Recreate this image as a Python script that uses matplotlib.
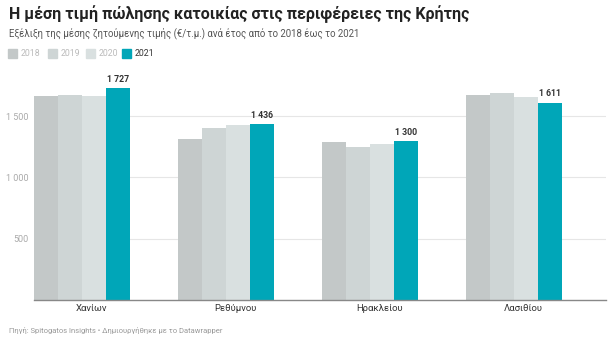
import numpy as np
import matplotlib.pyplot as plt
from matplotlib.patches import Rectangle

plt.rcParams['font.family'] = ['Roboto', 'DejaVu Sans']

regions = ['Χανίων', 'Ρεθύμνου', 'Ηρακλείου', 'Λασιθίου']
years = ['2018', '2019', '2020', '2021']
prices = {
    '2018': [1665, 1317, 1287, 1675],
    '2019': [1672, 1402, 1251, 1691],
    '2020': [1663, 1428, 1270, 1656],
    '2021': [1727, 1436, 1300, 1611],
}
colors = ['#c3c8c8', '#ced5d5', '#d9e0e0', '#00a6b8']

fig = plt.figure(figsize=(6.16, 3.57), dpi=100)
ax = fig.add_axes([34/616, 57/357, 572/616, 220.6/357])

centers = np.arange(len(regions)) * 6
for k, y in enumerate(years):
    bars = ax.bar(centers + (k - 1.5), prices[y], 1.0, color=colors[k], zorder=2)
    if y == '2021':
        for b in bars:
            h = b.get_height()
            ax.annotate(f"{h:,}".replace(',', ' '),
                        xy=(b.get_x() + b.get_width() / 2, h),
                        xytext=(0, 3), textcoords='offset points',
                        ha='center', va='bottom', fontsize=6.3,
                        fontweight='bold', color='#333333')

ax.set_xlim(-2, 21.83)
ax.set_ylim(0, 1800)
for v in [500, 1000, 1500]:
    ax.axhline(v, color='#e6e6e6', lw=0.8, zorder=1)
ax.set_yticks([500, 1000, 1500])
ax.set_yticklabels(['500', '1 000', '1 500'])
ax.tick_params(axis='y', length=0, pad=4, labelsize=6.5, labelcolor='#aaaaaa')
ax.set_xticks(centers + 0.4)
ax.set_xticklabels(regions)
ax.tick_params(axis='x', length=0, pad=3, labelsize=6.8, labelcolor='#333333')
for s in ['top', 'right', 'left']:
    ax.spines[s].set_visible(False)
ax.spines['bottom'].set_color('#888888')
ax.spines['bottom'].set_linewidth(1)
ax.spines['bottom'].set_zorder(3)

fig.text(9/616, 1 - 14/357, 'Η μέση τιμή πώλησης κατοικίας στις περιφέρειες της Κρήτης',
         fontsize=11.5, fontweight='bold', color='#222222', va='center')
fig.text(9/616, 1 - 33/357, 'Εξέλιξη της μέσης ζητούμενης τιμής (€/τ.μ.) ανά έτος από το 2018 έως το 2021',
         fontsize=6.9, color='#555555', va='center')

leg_x = [8, 48, 86, 122]
for k, y in enumerate(years):
    fig.patches.append(Rectangle((leg_x[k]/616, 1 - 58/357), 9/616, 9/357,
                                 transform=fig.transFigure, color=colors[k]))
    fig.text((leg_x[k] + 13)/616, 1 - 53.5/357, y, fontsize=6.3, va='center',
             color='#333333' if y == '2021' else '#bbbbbb')

fig.text(9/616, 1 - 330/357, 'Πηγή: Spitogatos Insights • Δημιουργήθηκε με το Datawrapper',
         fontsize=5.5, color='#999999', va='center')

fig.savefig('out.png', dpi=100, facecolor='white')
